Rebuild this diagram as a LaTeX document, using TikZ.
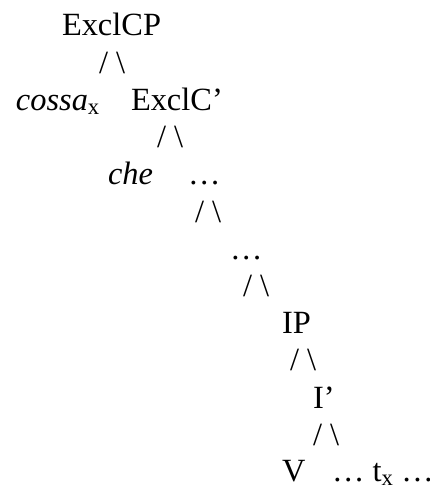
\documentclass[tikz,border=0pt]{standalone}
\usepackage{fontspec}
\setmainfont{Liberation Serif}
\tikzset{
  lbl/.style={anchor=base west, inner sep=0pt, outer sep=0pt, text depth=0pt, font=\fontsize{32.4}{38}\selectfont},
}
\newcommand{\brk}{/ \textbackslash}
\begin{document}
\begin{tikzpicture}[x=1pt,y=-1pt]
\useasboundingbox (0,0) rectangle (429,486);
\node[lbl] (cp)    at (62,36)    {ExclCP};
\node[lbl] (s1)    at (99,73.2)  {\brk};
\node[lbl] (cossa) at (16,110.4) {\textit{cossa}\textsubscript{x}};
\node[lbl] (cbar)  at (131,110.4) {ExclC’};
\node[lbl] (s2)    at (157,147.6) {\brk};
\node[lbl] (che)   at (108,184.8) {\textit{che}};
\node[lbl] (d1)    at (188,184.8) {…};
\node[lbl] (s3)    at (195,222)  {\brk};
\node[lbl] (d2)    at (230,259.2) {…};
\node[lbl] (s4)    at (243,296.4) {\brk};
\node[lbl] (ip)    at (282,333.6) {IP};
\node[lbl] (s5)    at (290,370.8) {\brk};
\node[lbl] (ibar)  at (313,408)  {I’};
\node[lbl] (s6)    at (313,445.2) {\brk};
\node[lbl] (v)     at (282,481.5) {V};
\node[lbl] (tx)    at (332,481.5) {… t\textsubscript{x} …};
\end{tikzpicture}
\end{document}
